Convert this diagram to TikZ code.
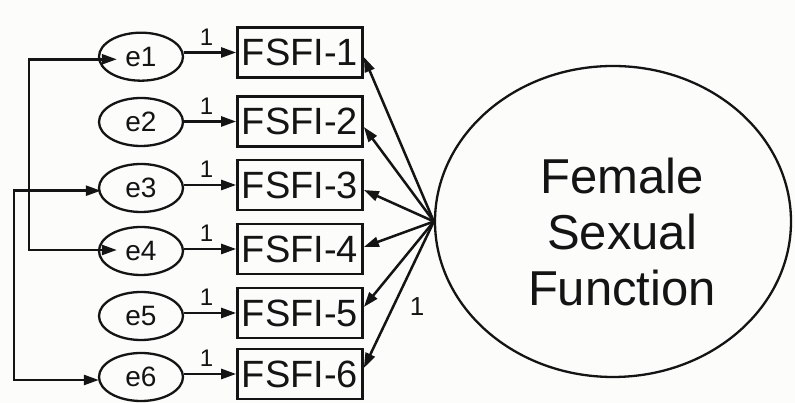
\documentclass[tikz,border=0pt]{standalone}
\usepackage{fontspec}
\setmainfont{Liberation Sans}
\usetikzlibrary{arrows.meta,shapes.geometric}
\definecolor{bg}{RGB}{252,252,250}
\definecolor{ink}{RGB}{20,20,20}
\begin{document}
\begin{tikzpicture}[x=1pt,y=1pt,
  obs/.style={draw=ink, text=ink, line width=2.7pt, minimum width=125pt, minimum height=50pt, inner sep=0pt, font=\fontsize{38}{40}\selectfont},
  err/.style={draw=ink, text=ink, ellipse, line width=2.3pt, minimum width=84pt, minimum height=48pt, inner sep=0pt, font=\fontsize{28}{30}\selectfont},
  lat/.style={draw=ink, ellipse, line width=2.3pt, minimum width=356pt, minimum height=311pt, inner sep=0pt},
  arr/.style={draw=ink, line width=2.5pt, -{Triangle[length=15pt,width=10pt]}},
  cov/.style={draw=ink, line width=2.5pt, {Triangle[length=15pt,width=10pt]}-{Triangle[length=15pt,width=10pt]}},
  one/.style={text=ink, font=\fontsize{24}{26}\selectfont, inner sep=0pt},
  bigtext/.style={text=ink, align=center, inner sep=0pt, font=\fontsize{49}{56}\selectfont}]
\fill[bg] (0,0) rectangle (795,403);
\useasboundingbox (0,0) rectangle (795,403);

% observed variables
\node[obs] (b1) at (300,350.5) {FSFI-1};
\node[obs] (b2) at (300,281.5) {FSFI-2};
\node[obs] (b3) at (300,218) {FSFI-3};
\node[obs] (b4) at (300,154) {FSFI-4};
\node[obs] (b5) at (300,90) {FSFI-5};
\node[obs] (b6) at (300,29) {FSFI-6};

% error terms
\node[err] (e1) at (141,346.3) {e1};
\node[err] (e2) at (141,281) {e2};
\node[err] (e3) at (141,215) {e3};
\node[err] (e4) at (141,152) {e4};
\node[err] (e5) at (141,87) {e5};
\node[err] (e6) at (141,26) {e6};

% latent variable
\node[lat] (F) at (613,181.5) {};
\node[bigtext] (Ft) at (622,171.5) {Female\\Sexual\\Function};

% error -> indicator
\foreach \i in {1,...,6}{
  \draw[arr] (b\i.west -| e\i.east) -- node[one, pos=0.43, above=6pt] {1} (b\i.west);
}

% loadings
\draw[arr] (F.west) -- ([yshift=-4.5pt]b1.east);
\draw[arr] (F.west) -- ([yshift=-5.5pt]b2.east);
\draw[arr] (F.west) -- ([yshift=-5pt]b3.east);
\draw[arr] (F.west) -- ([yshift=2pt]b4.east);
\draw[arr] (F.west) -- ([yshift=6pt]b5.east);
\draw[arr] (F.west) -- ([yshift=6pt]b6.east);
\node[text=ink, font=\fontsize{26}{28}\selectfont, inner sep=0pt] (l6) at (417,96) {1};

% covariances
\draw[cov] ([xshift=19pt,yshift=-2.6pt]e1.west) -- ++(-88pt,0) |- ([xshift=19pt,yshift=1pt]e4.west);
\draw[cov] ([xshift=3pt,yshift=-2.7pt]e3.west) -- ++(-87pt,0) |- ([xshift=1pt,yshift=-3pt]e6.west);
\end{tikzpicture}
\end{document}
